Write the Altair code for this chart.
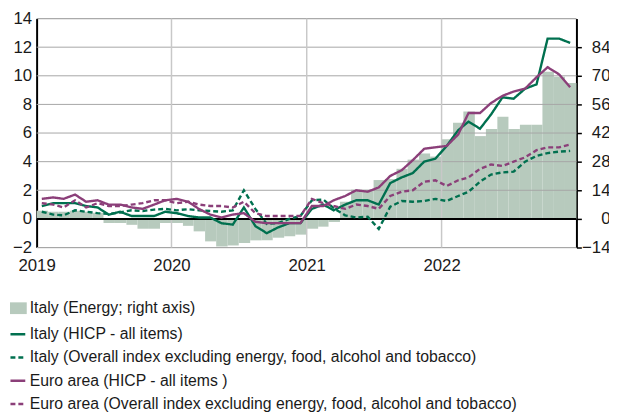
import altair as alt
import pandas as pd

# ---------------- data ----------------
months = [f"{y}-{m:02d}" for y in range(2019, 2023) for m in range(1, 13)]

italy_energy = [4.0, 3.5, 3.5, 4.0, 3.5, 3.0, -2.0, -2.0, -2.9, -4.8, -4.8, -2.0,
                -2.0, -3.4, -6.1, -11.0, -13.5, -13.0, -11.8, -10.5, -10.5, -9.2, -8.5, -7.7,
                -4.8, -3.8, -1.5, 8.4, 14.3, 14.3, 19.0, 19.5, 24.5, 29.0, 32.0, 30.5,
                39.0, 47.0, 52.5, 40.5, 44.0, 50.0, 44.0, 46.0, 46.0, 72.0, 69.5, 66.5]

italy_hicp = [0.9, 1.1, 1.1, 1.1, 0.9, 0.8, 0.3, 0.5, 0.2, 0.2, 0.2, 0.5,
              0.4, 0.2, 0.1, 0.1, -0.3, -0.4, 0.8, -0.5, -1.0, -0.6, -0.3, -0.3,
              0.7, 1.0, 0.6, 1.0, 1.3, 1.3, 1.0, 2.5, 2.9, 3.2, 4.0, 4.2,
              5.1, 6.2, 6.8, 6.3, 7.3, 8.5, 8.4, 9.1, 9.4, 12.6, 12.6, 12.3]

italy_core = [0.5, 0.3, 0.25, 0.6, 0.5, 0.4, 0.35, 0.45, 0.6, 0.55, 0.65, 0.7,
              0.6, 0.68, 0.6, 0.55, 0.5, 0.6, 2.0, 0.7, -0.35, -0.3, 0.0, 0.2,
              1.3, 1.35, 0.75, 0.25, 0.1, 0.15, -0.7, 0.85, 1.25, 1.2, 1.25, 1.4,
              1.25, 1.6, 1.9, 2.6, 3.1, 3.25, 3.3, 4.0, 4.4, 4.6, 4.7, 4.75]

ea_hicp = [1.4, 1.5, 1.4, 1.7, 1.2, 1.3, 1.0, 1.0, 0.8, 0.7, 1.0, 1.3,
           1.4, 1.2, 0.7, 0.3, 0.1, 0.3, 0.4, -0.2, -0.3, -0.3, -0.3, -0.3,
           0.9, 0.9, 1.3, 1.6, 2.0, 1.9, 2.2, 3.0, 3.4, 4.1, 4.9, 5.0,
           5.1, 5.9, 7.4, 7.4, 8.1, 8.6, 8.9, 9.1, 9.9, 10.6, 10.1, 9.2]

ea_core = [1.1, 1.0, 0.8, 1.3, 0.8, 1.1, 0.9, 0.9, 1.0, 1.1, 1.3, 1.3,
           1.1, 1.2, 1.0, 0.9, 0.9, 0.8, 1.2, 0.4, 0.2, 0.2, 0.2, 0.2,
           1.4, 1.1, 0.9, 0.7, 1.0, 0.9, 0.7, 1.6, 1.9, 2.0, 2.6, 2.7,
           2.3, 2.7, 2.9, 3.5, 3.8, 3.7, 4.0, 4.3, 4.8, 5.0, 5.0, 5.2]

energy_name = "Italy (Energy; right axis)"
series_names = [
    "Italy (HICP - all items)",
    "Italy (Overall index excluding energy, food, alcohol and tobacco)",
    "Euro area (HICP - all items )",
    "Euro area (Overall index excluding energy, food, alcohol and tobacco)",
]
series_values = [italy_hicp, italy_core, ea_hicp, ea_core]

left_ticks = [-2, 0, 2, 4, 6, 8, 10, 12, 14]
right_ticks = [-14, 0, 14, 28, 42, 56, 70, 84]
year_ticks = [2019, 2020, 2021, 2022]
grid_years = [2020, 2021, 2022]

# ---------------- tables ----------------
starts = pd.to_datetime([m + "-01" for m in months])
ends = starts + pd.offsets.MonthBegin(1)
mids = starts + pd.Timedelta(days=14)
fmt = "%Y-%m-%d"

bar_df = pd.DataFrame({
    "start": starts.strftime(fmt),
    "end": ends.strftime(fmt),
    "value": italy_energy,
    "name": energy_name,
})

line_rows = []
for name, vals in zip(series_names, series_values):
    for d, v in zip(mids.strftime(fmt), vals):
        line_rows.append({"date": d, "series": name, "value": v})
line_df = pd.DataFrame(line_rows)

hgrid_df = pd.DataFrame({"y": left_ticks})
vgrid_df = pd.DataFrame({"date": [f"{y}-01-01" for y in grid_years]})
zero_df = pd.DataFrame({"y": [0]})

# ---------------- styling ----------------
FONT = "Liberation Sans"
GREEN = "#00704f"
PURPLE = "#8b3f79"
BAR = "#b7cabd"
TXT = "#1a1a1a"

xscale = alt.Scale(type="utc", domain=[alt.DateTime(year=2019, month=1, date=1, utc=True),
                                       alt.DateTime(year=2023, month=1, date=1, utc=True)])
xaxis = alt.Axis(values=[alt.DateTime(year=y, month=1, date=1, utc=True) for y in year_ticks],
                 format="%Y", domain=False, ticks=False, grid=False, labelFontSize=17,
                 labelFont=FONT, labelColor=TXT, labelPadding=10, labelAlign="center",
                 title=None)

lscale = alt.Scale(domain=[-2, 14], nice=False, zero=False)
laxis = alt.Axis(values=left_ticks, orient="left", domain=True, domainColor="black",
                 domainWidth=2, ticks=False, grid=False, labelFontSize=17, labelFont=FONT,
                 labelColor=TXT, labelPadding=5, title=None)

rscale = alt.Scale(domain=[-14, 98], nice=False, zero=False)
raxis = alt.Axis(values=right_ticks, orient="right", domain=True, domainColor="black",
                 domainWidth=2, ticks=True, tickColor="black", tickSize=5, tickWidth=1.5,
                 grid=False, labelFontSize=17, labelFont=FONT, labelColor=TXT,
                 labelAlign="right", labelPadding=29, title=None)

line_legend = alt.Legend(orient="none", legendX=-28, legendY=311, title=None,
                         symbolType="stroke", symbolSize=225, symbolStrokeWidth=2.5,
                         labelFontSize=16, labelFont=FONT, labelColor=TXT,
                         labelLimit=700, rowPadding=6.5, padding=0, labelOffset=3,
                         direction="vertical")
bar_legend = alt.Legend(orient="none", legendX=-27, legendY=285, title=None,
                        symbolType="M-1,-0.7H1V0.7H-1Z", symbolSize=289,
                        symbolStrokeWidth=0, labelFontSize=16, labelFont=FONT,
                        labelColor=TXT, labelLimit=700, padding=0, labelOffset=3,
                        direction="vertical")

# ---------------- layers ----------------
bars = alt.Chart(bar_df).mark_rect().encode(
    x=alt.X("start:T", scale=xscale, axis=xaxis),
    x2="end:T",
    y=alt.Y("value:Q", scale=rscale, axis=raxis),
    y2=alt.datum(0),
    fill=alt.Fill("name:N", scale=alt.Scale(domain=[energy_name], range=[BAR]),
                  legend=bar_legend),
)

hgrid = alt.Chart(hgrid_df).mark_rule(color="#a6a6a6", strokeWidth=1).encode(
    y=alt.Y("y:Q", scale=lscale, axis=laxis)
)
vgrid = alt.Chart(vgrid_df).mark_rule(color="#c8c8c8", strokeWidth=1.5).encode(
    x=alt.X("date:T", scale=xscale, axis=xaxis)
)
zero = alt.Chart(zero_df).mark_rule(color="black", strokeWidth=2).encode(
    y=alt.Y("y:Q", scale=lscale, axis=laxis)
)

color_scale = alt.Scale(domain=series_names, range=[GREEN, GREEN, PURPLE, PURPLE])
dash_scale = alt.Scale(domain=series_names, range=[[1, 0], [5, 3], [1, 0], [5, 3]])

lines = alt.Chart(line_df).mark_line(strokeWidth=2.4).encode(
    x=alt.X("date:T", scale=xscale, axis=xaxis),
    y=alt.Y("value:Q", scale=lscale, axis=laxis),
    color=alt.Color("series:N", scale=color_scale, legend=line_legend, sort=series_names),
    strokeDash=alt.StrokeDash("series:N", scale=dash_scale, legend=line_legend,
                              sort=series_names),
)

inner = alt.layer(hgrid, vgrid, zero, lines)

chart = alt.layer(bars, inner).resolve_scale(y="independent").properties(
    width=547,
    height=232,
    padding={"left": 29, "top": 8, "right": 33, "bottom": 166},
    autosize=alt.AutoSizeParams(type="none"),
).configure_view(stroke=None).configure(font=FONT)

chart.save("out.html", embed_options={"renderer": "svg", "actions": False})
